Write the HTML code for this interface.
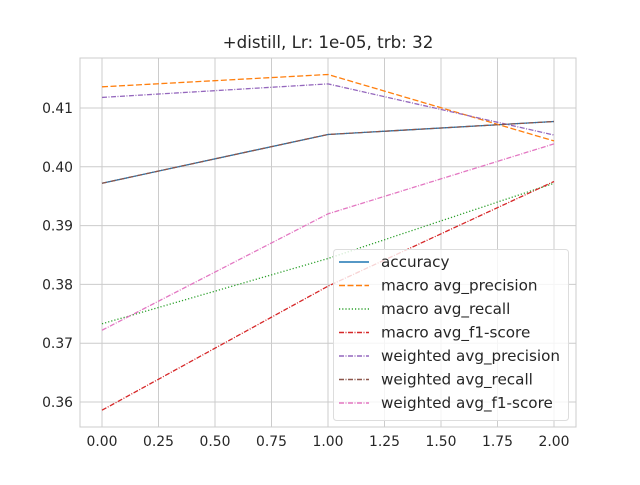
<!DOCTYPE html>
<html><head><meta charset="utf-8"><style>
body{margin:0;background:#fff}
svg text{font-family:"DejaVu Sans","Liberation Sans",sans-serif;fill:#262626}
</style></head><body>
<svg id="chart" width="640" height="480" xmlns="http://www.w3.org/2000/svg">
<rect width="640" height="480" fill="#fff"/>
<g id="grid"></g>
<rect x="80" y="58" width="496" height="369" fill="none" stroke="#ccc" stroke-width="1"/>
<text x="328" y="48" text-anchor="middle" font-size="16.7">+distill, Lr: 1e-05, trb: 32</text>
<g id="series"></g>
<g id="legend"></g>
</svg>
<script>
const xValues=[0,1,2];
const xTicks=[0,0.25,0.5,0.75,1,1.25,1.5,1.75,2];
const yTicks=[0.36,0.37,0.38,0.39,0.40,0.41];
const seriesNames=["accuracy","macro avg_precision","macro avg_recall","macro avg_f1-score","weighted avg_precision","weighted avg_recall","weighted avg_f1-score"];
const accuracy=[0.3972,0.4055,0.4077];
const macroPrecision=[0.4136,0.4157,0.4044];
const macroRecall=[0.3733,0.3844,0.3972];
const macroF1=[0.3586,0.3797,0.3975];
const weightedPrecision=[0.4118,0.4141,0.4054];
const weightedRecall=[0.3972,0.4055,0.4077];
const weightedF1=[0.3722,0.3920,0.4039];
const seriesData=[accuracy,macroPrecision,macroRecall,macroF1,weightedPrecision,weightedRecall,weightedF1];
const colors=["#1f77b4","#ff7f0e","#2ca02c","#d62728","#9467bd","#8c564b","#e377c2"];
const dashes=["","6,2.5","1.2,2","5,1.5,1,1.5","5,1.5,1,1.5","5,1.5,1,1.5","5,1.5,1,1.5"];
const NS="http://www.w3.org/2000/svg";
const xs=v=>102+v*226;
const ys=v=>402-(v-0.36)*5880;
function mk(tag,attrs,parent){const e=document.createElementNS(NS,tag);for(const k in attrs)e.setAttribute(k,attrs[k]);parent.appendChild(e);return e;}
const grid=document.getElementById('grid');
xTicks.forEach(t=>{
  const l=mk('line',{x1:xs(t),x2:xs(t),y1:58,y2:427,stroke:'#ccc','stroke-width':1},grid);
  
  
  const tx=mk('text',{x:xs(t),y:446,'text-anchor':'middle','font-size':13.9},grid);
  tx.textContent=t.toFixed(2);
  
  
});
yTicks.forEach(t=>{
  const l=mk('line',{x1:80,x2:576,y1:ys(t),y2:ys(t),stroke:'#ccc','stroke-width':1},grid);
  
  
  const tx=mk('text',{x:73,y:ys(t)+5,'text-anchor':'end','font-size':13.9},grid);
  tx.textContent=t.toFixed(2);
  
  
});
const sg=document.getElementById('series');
seriesData.forEach((d,i)=>{
  const pts=d.map((v,j)=>xs(xValues[j])+','+ys(v)).join(' ');
  const p=mk('polyline',{points:pts,fill:'none',stroke:colors[i],'stroke-width':1.3,'stroke-dasharray':dashes[i]},sg);
  
  
});
const lg=document.getElementById('legend');
const box=mk('rect',{x:333.5,y:249.5,width:235,height:171,rx:3,fill:'#fff','fill-opacity':0.8,stroke:'#ddd'},lg);


seriesNames.forEach((n,i)=>{
  const y=262+i*23.5;
  const l=mk('line',{x1:339,x2:369,y1:y,y2:y,stroke:colors[i],'stroke-width':1.5,'stroke-dasharray':dashes[i]},lg);
  
  
  const t=mk('text',{x:381,y:y+5,'font-size':15.2},lg);
  t.textContent=n;
  
  
});
</script>
</body></html>
